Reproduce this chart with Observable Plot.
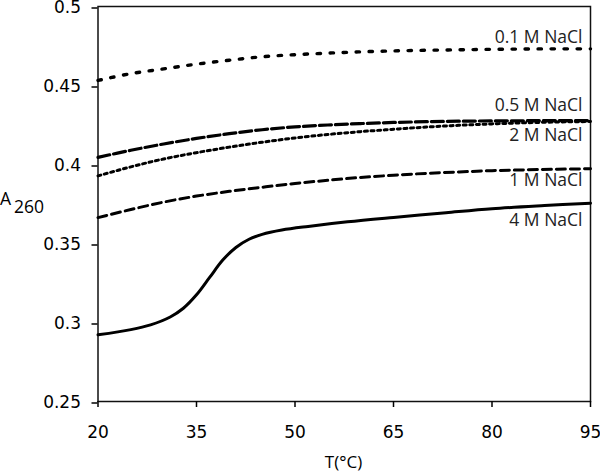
<!DOCTYPE html>
<html>
<head>
<meta charset="utf-8">
<script src="https://cdn.jsdelivr.net/npm/d3@7"></script>
<script src="https://cdn.jsdelivr.net/npm/@observablehq/plot@0.6"></script>
<style>
  html, body { margin: 0; padding: 0; background: white; }
  #chart { width: 600px; height: 474px; }
</style>
</head>
<body>
<div id="chart"></div>
<script>
// ---- data ----
const temps = [20, 25, 30, 35, 40, 45, 50, 55, 60, 65, 70, 75, 80, 85, 90, 95];
const nacl01 = [0.4532, 0.4575, 0.4605, 0.4635, 0.4660, 0.4682, 0.4695, 0.4705, 0.4713, 0.4719, 0.4723, 0.4726, 0.4729, 0.4731, 0.4732, 0.4732];
const nacl05 = [0.4045, 0.4090, 0.4130, 0.4165, 0.4195, 0.4220, 0.4238, 0.4250, 0.4259, 0.4266, 0.4271, 0.4274, 0.4276, 0.4277, 0.4278, 0.4278];
const nacl2  = [0.3928, 0.3985, 0.4035, 0.4075, 0.4110, 0.4141, 0.4168, 0.4190, 0.4208, 0.4223, 0.4237, 0.4248, 0.4257, 0.4264, 0.4269, 0.4272];
const nacl1  = [0.3664, 0.3715, 0.3762, 0.3800, 0.3830, 0.3856, 0.3880, 0.3900, 0.3918, 0.3932, 0.3944, 0.3953, 0.3961, 0.3966, 0.3970, 0.3973];
const temps4 = [20, 25, 28, 31, 33, 35, 37, 39, 41, 43, 45, 48, 52, 58, 65, 73, 80, 88, 95];
const nacl4  = [0.2922, 0.2955, 0.2985, 0.3035, 0.3090, 0.3175, 0.3285, 0.3395, 0.3475, 0.3527, 0.3558, 0.3585, 0.3608, 0.3637, 0.3665, 0.3695, 0.3720, 0.3740, 0.3755];
const seriesNames = ["0.1 M NaCl", "0.5 M NaCl", "2 M NaCl", "1 M NaCl", "4 M NaCl"];
const xTicks = [20, 35, 50, 65, 80, 95];
const yTicks = [0.25, 0.3, 0.35, 0.4, 0.45, 0.5];
const yTickLabels = ["0.25", "0.3", "0.35", "0.4", "0.45", "0.5"];
const xLabel = "T(°C)";
const yLabelMain = "A";
const yLabelSub = "260";

// ---- build tables ----
const seriesData = [
  {name: seriesNames[0], t: temps, v: nacl01},
  {name: seriesNames[1], t: temps, v: nacl05},
  {name: seriesNames[2], t: temps, v: nacl2},
  {name: seriesNames[3], t: temps, v: nacl1},
  {name: seriesNames[4], t: temps4, v: nacl4}
].map(s => ({name: s.name, rows: s.t.map((t, i) => ({T: t, A: s.v[i]}))}));

// styles (not data)
const styles = [
  {strokeWidth: 3.4, strokeDasharray: "3.4,9.6", labelDy: -11},
  {strokeWidth: 3.2, strokeDasharray: "12,4", labelDy: -15},
  {strokeWidth: 3.0, strokeDasharray: "3,3.6", labelDy: 14},
  {strokeWidth: 3.0, strokeDasharray: "9,5", labelDy: 12},
  {strokeWidth: 3.0, strokeDasharray: null, labelDy: 17}
];

const lineMarks = seriesData.map((s, i) => Plot.line(s.rows, {
  x: "T", y: "A", curve: "catmull-rom", stroke: "black",
  strokeWidth: styles[i].strokeWidth,
  strokeDasharray: styles[i].strokeDasharray || undefined
}));

const labelMarks = seriesData.map((s, i) => Plot.text([s.rows[s.rows.length - 1]], {
  x: "T", y: "A", text: () => s.name, textAnchor: "end", dx: -8, dy: styles[i].labelDy,
  fontFamily: "Open Sans", fontSize: 17.5, fill: "#222"
}));

const plot = Plot.plot({
  width: 600,
  height: 474,
  marginLeft: 97.5,
  marginRight: 10,
  marginTop: 6,
  marginBottom: 73,
  x: {domain: [20, 95]},
  y: {domain: [0.25, 0.5]},
  style: {fontFamily: "DejaVu Sans", fontSize: "17px", color: "black", background: "white"},
  marks: [
    Plot.frame({stroke: "#111", strokeWidth: 1.5}),
    Plot.axisY({ticks: yTicks, tickFormat: d => yTickLabels[yTicks.indexOf(d)], tickSize: 6, tickPadding: 11,
      label: null, fontSize: 17, strokeWidth: 1.5, fontFamily: "DejaVu Sans", dy: 1.5}),
    Plot.axisX({ticks: xTicks, tickFormat: d => String(d), tickSize: 6, tickPadding: 18,
      label: null, fontSize: 17, strokeWidth: 1.5, fontFamily: "DejaVu Sans"}),
    ...lineMarks,
    ...labelMarks
  ]
});

const svg = d3.select(plot);
svg.append("text")
  .attr("x", 343.5).attr("y", 468)
  .attr("text-anchor", "middle")
  .attr("font-family", "Open Sans").attr("font-size", 17).attr("fill", "black")
  .text(xLabel);
const yl = svg.append("text")
  .attr("x", 0).attr("y", 205)
  .attr("text-anchor", "start")
  .attr("font-family", "Open Sans").attr("font-size", 17.5).attr("fill", "black");
yl.append("tspan").text(yLabelMain);
yl.append("tspan").attr("x", 14).attr("y", 213).text(yLabelSub);

document.getElementById("chart").appendChild(plot);
</script>
</body>
</html>
